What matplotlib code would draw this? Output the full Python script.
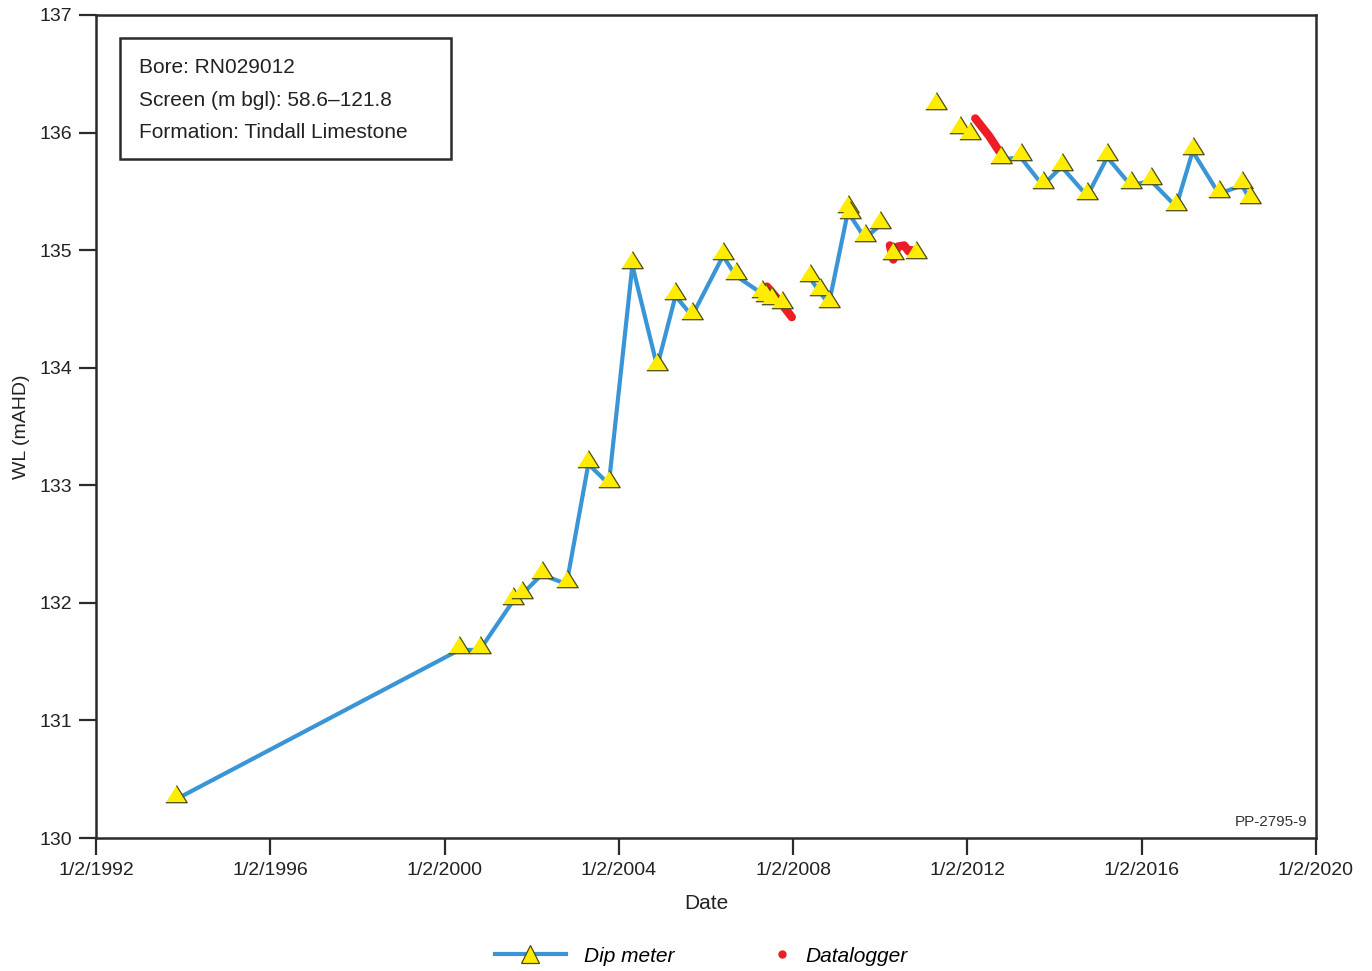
import matplotlib
matplotlib.use("Agg")
import matplotlib.pyplot as plt
from matplotlib.lines import Line2D
from matplotlib.patches import Rectangle
from matplotlib import font_manager
import numpy as np

# ---- data (decimal years, water level mAHD); NaN breaks the dip meter line
dip_year = [1993.84, 2000.34, 2000.81, 2001.58, 2001.77, 2002.23, 2002.80,
            2003.30, 2003.77, 2004.31, 2004.88, 2005.30, 2005.68, 2006.39,
            2006.69, 2007.29, 2007.38, 2007.51, 2007.74, np.nan,
            2008.39, 2008.62, 2008.82, 2009.27, 2009.30, 2009.65, 2009.99, np.nan,
            2010.29, np.nan, 2010.82, np.nan,
            2011.28, np.nan, 2011.83, 2012.06, np.nan,
            2012.77, 2013.22, 2013.73, 2014.16, 2014.75, 2015.21, 2015.75,
            2016.21, 2016.79, 2017.17, 2017.77, 2018.30, 2018.49]
dip_wl = [130.33, 131.60, 131.60, 132.02, 132.07, 132.24, 132.16,
          133.18, 133.01, 134.87, 134.01, 134.61, 134.44, 134.95,
          134.78, 134.63, 134.59, 134.57, 134.53, np.nan,
          134.76, 134.64, 134.54, 135.35, 135.30, 135.10, 135.21, np.nan,
          134.95, np.nan, 134.96, np.nan,
          136.23, np.nan, 136.02, 135.97, np.nan,
          135.77, 135.79, 135.55, 135.71, 135.46, 135.79, 135.55,
          135.59, 135.37, 135.84, 135.48, 135.55, 135.43]

logger_year = [2007.40, 2007.70, 2007.97, np.nan,
               2010.22, 2010.30, 2010.40, 2010.55, 2010.65, 2010.72, np.nan,
               2012.18, 2012.50, 2012.73]
logger_wl = [134.69, 134.56, 134.43, np.nan,
             135.04, 134.92, 135.03, 135.04, 134.99, 135.00, np.nan,
             136.12, 135.97, 135.84]

year_ticks = [1992, 1996, 2000, 2004, 2008, 2012, 2016, 2020]
year_labels = ["1/2/%d" % y for y in year_ticks]
wl_ticks = [130, 131, 132, 133, 134, 135, 136, 137]

info_lines = ["Bore: RN029012", "Screen (m bgl): 58.6\u2013121.8",
              "Formation: Tindall Limestone"]

names = {f.name for f in font_manager.fontManager.ttflist}
narrow = "Liberation Sans Narrow" if "Liberation Sans Narrow" in names else "Liberation Sans"
plt.rcParams["font.family"] = [narrow, "DejaVu Sans"]

blue = "#3a95d6"
yellow = "#ffec00"
red = "#ee1c24"
dark = "#2b2b2b"

# triangle whose base sits just below the data point
tri = [(-1, -0.3), (1, -0.3), (0, 1.3)]

fig = plt.figure(figsize=(13.72, 9.71), dpi=100)
ax = fig.add_axes([0.06997, 0.13697, 0.8892, 0.8476])

ax.plot(dip_year, dip_wl, color=blue, lw=3, zorder=2, solid_capstyle="round")
ax.plot(logger_year, logger_wl, color=red, lw=6, zorder=3, solid_capstyle="round")
ax.plot(dip_year, dip_wl, ls="none", marker=tri, markersize=20,
        markerfacecolor=yellow, markeredgecolor="#4a4a1a", markeredgewidth=0.9,
        zorder=4)

ax.set_xlim(1992, 2020)
ax.set_ylim(130, 137)
ax.set_xticks(year_ticks)
ax.set_xticklabels(year_labels)
ax.set_yticks(wl_ticks)
ax.tick_params(axis="both", direction="out", length=12, width=1.6,
               colors=dark, labelsize=14, labelcolor="#222222")
ax.tick_params(axis="y", pad=5)
ax.tick_params(axis="x", pad=5)
for s in ax.spines.values():
    s.set_linewidth(1.8)
    s.set_color(dark)

ax.set_xlabel("Date", fontsize=15, color="#222222", labelpad=11)
ax.set_ylabel("WL (mAHD)", fontsize=14, color="#222222", labelpad=7)

# info box
ax.add_patch(Rectangle((0.0197, 0.825), 0.2713, 0.147, transform=ax.transAxes,
                       fill=False, lw=1.8, edgecolor=dark, zorder=5))
for i, line in enumerate(info_lines):
    ax.text(0.0352, 0.936 - i * 0.0395, line, transform=ax.transAxes,
            fontsize=15, family=["Liberation Sans", "DejaVu Sans"],
            color="#222222", va="center", ha="left")

ax.text(0.993, 0.019, "PP-2795-9", transform=ax.transAxes, fontsize=11,
        family=["Liberation Sans", "DejaVu Sans"], color="#333333",
        ha="right", va="center")

# legend below the axes
leg_y = 1 - 956 / 971
h1 = Line2D([], [], color=blue, lw=3, marker="^", markersize=13,
            markerfacecolor=yellow, markeredgecolor="#4a4a1a", markeredgewidth=0.9)
fig.legend([h1], ["Dip meter"], loc="center left", bbox_to_anchor=(495 / 1372, leg_y),
           frameon=False, borderpad=0, borderaxespad=0, handlelength=3.4,
           handletextpad=0.85, prop={"size": 15, "style": "italic"})
h2 = Line2D([], [], ls="none", marker="o", markersize=5, color=red)
fig.legend([h2], ["Datalogger"], loc="center left", bbox_to_anchor=(772 / 1372, leg_y),
           frameon=False, borderpad=0, borderaxespad=0, handlelength=1.0,
           handletextpad=0.6, prop={"size": 15, "style": "italic"})

fig.savefig("out.png", dpi=100)
